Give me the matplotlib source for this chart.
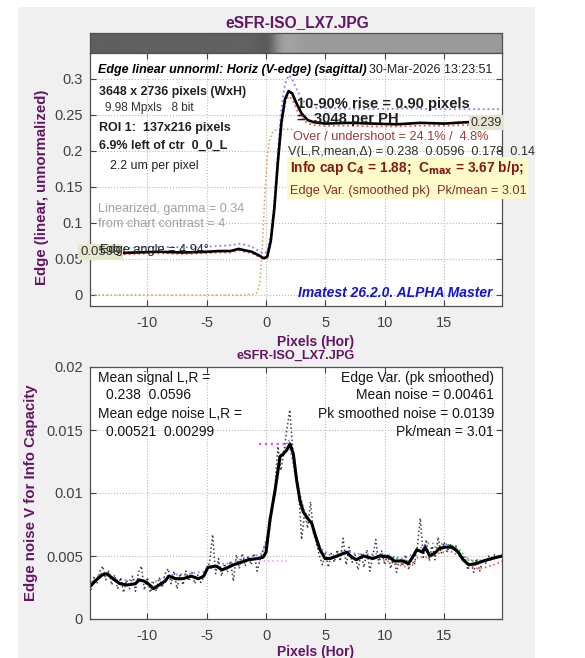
import numpy as np
import matplotlib.pyplot as plt
from matplotlib.patches import Rectangle
from matplotlib.colors import PowerNorm

plt.rcParams['font.family'] = ['Liberation Sans', 'DejaVu Sans']
plt.rcParams['axes.unicode_minus'] = False

W, H = 585, 658
PURPLE = '#641464'
TICKC = '#404040'

# edge profile (top plot)
edge_x = [-14.8, -13, -11, -9, -7, -5, -4, -3, -2.3, -1.8,
          -1.2, -0.6, -0.2, 0.1, 0.4, 0.7, 1.0, 1.3, 1.6, 1.9,
          2.2, 2.6, 3.0, 3.5, 4.0, 5, 7, 9, 11, 13,
          15, 17, 19.9]
edge_y = [0.059, 0.058, 0.059, 0.060, 0.059, 0.060, 0.061, 0.061, 0.064, 0.062,
          0.060, 0.055, 0.051, 0.053, 0.075, 0.12, 0.185, 0.24, 0.272, 0.283,
          0.280, 0.265, 0.252, 0.243, 0.240, 0.238, 0.239, 0.238, 0.237, 0.239,
          0.238, 0.240, 0.239]
edge_lo = [0.057, 0.056, 0.057, 0.058, 0.057, 0.058, 0.059, 0.059, 0.062, 0.060,
           0.058, 0.053, 0.050, 0.052, 0.073, 0.118, 0.182, 0.236, 0.266, 0.276,
           0.272, 0.257, 0.246, 0.238, 0.236, 0.235, 0.235, 0.234, 0.234, 0.235,
           0.235, 0.236, 0.236]
hi_x = [-14.8, -12, -9, -6, -4, -3, -2.3, -1.8, -1.2, -0.6, -0.2, 0.1, 0.4, 0.7,
        1.0, 1.3, 1.6, 1.9, 2.2, 2.6, 3.0, 3.5, 4.0, 6, 9, 12, 15, 19.9]
hi_y = [0.066, 0.065, 0.067, 0.066, 0.068, 0.069, 0.071, 0.070, 0.067, 0.061, 0.058, 0.060, 0.082, 0.13,
        0.20, 0.26, 0.293, 0.305, 0.300, 0.285, 0.272, 0.263, 0.260, 0.259, 0.258, 0.259, 0.258, 0.258]
ideal_x = [-14.8, -2, -1.0, -0.7, -0.5, -0.3, -0.1, 0.1, 0.3, 0.5, 0.8, 1.2, 2.4]
ideal_y = [0.0, 0.0, 0.001, 0.004, 0.02, 0.07, 0.14, 0.19, 0.215, 0.225, 0.229, 0.230, 0.230]
level_left, level_right = 0.0599, 0.239

# edge noise (bottom plot)
nz_x = [-14.8, -14.3, -13.8, -13.4, -12.9, -12.3, -11.7, -11.0, -10.7, -10.25,
        -9.8, -9.5, -9.0, -8.5, -8.2, -7.6, -7.0, -6.3, -5.7, -5.25,
        -4.9, -4.2, -3.7, -3.2, -2.75, -2.1, -1.5, -0.7, -0.25, 0.0,
        0.34, 0.76, 1.18, 1.46, 1.74, 2.02, 2.3, 2.58, 2.86, 3.14,
        3.57, 3.85, 4.13, 4.55, 4.97, 5.4, 6.0, 6.5, 6.8, 7.1,
        7.6, 8.2, 8.6, 9.0, 9.6, 10.4, 10.8, 11.5, 12.0, 12.4,
        12.7, 13.2, 13.4, 13.8, 14.3, 14.6, 15.1, 15.7, 16.2, 16.6,
        17.1, 17.7, 18.3, 19.0, 19.9]
nz_smooth = [0.0026, 0.0031, 0.0035, 0.0036, 0.0032, 0.0028, 0.0027, 0.0028, 0.0031, 0.0030,
             0.0027, 0.0024, 0.0027, 0.0030, 0.0034, 0.0032, 0.0032, 0.0034, 0.0032, 0.0034,
             0.0041, 0.0042, 0.0039, 0.0041, 0.0043, 0.0045, 0.0047, 0.0048, 0.0049, 0.0053,
             0.0079, 0.0102, 0.0129, 0.0131, 0.0134, 0.0139, 0.0131, 0.0110, 0.0094, 0.0085,
             0.0079, 0.0076, 0.0067, 0.0055, 0.0048, 0.0048, 0.0050, 0.0052, 0.0053, 0.0050,
             0.0047, 0.0050, 0.0049, 0.0048, 0.0050, 0.0049, 0.0046, 0.0046, 0.0044, 0.0050,
             0.0055, 0.0053, 0.0057, 0.0050, 0.0053, 0.0056, 0.0057, 0.0057, 0.0053, 0.0047,
             0.0043, 0.0044, 0.0046, 0.0048, 0.0050]
raw_x = np.arange(-14.75, 19.76, 0.25)
nz_raw = [0.0023, 0.0033, 0.0028, 0.0038, 0.0042, 0.0031, 0.0038, 0.0027, 0.0035, 0.0024,
          0.0033, 0.0021, 0.0031, 0.0024, 0.0034, 0.0022, 0.0037, 0.0042, 0.0023, 0.0033,
          0.0021, 0.0029, 0.0022, 0.0033, 0.0025, 0.0036, 0.0040, 0.0028, 0.0038, 0.0024,
          0.0036, 0.0027, 0.0038, 0.0030, 0.0037, 0.0028, 0.0035, 0.0029, 0.0033, 0.0039,
          0.0045, 0.0067, 0.0036, 0.0048, 0.0034, 0.0044, 0.0037, 0.0046, 0.0030, 0.0051,
          0.0040, 0.0052, 0.0042, 0.0050, 0.0043, 0.0052, 0.0038, 0.0047, 0.0055, 0.0060,
          0.0068, 0.0090, 0.0105, 0.0137, 0.0118, 0.0132, 0.0150, 0.0166, 0.0135, 0.0118,
          0.0102, 0.0063, 0.0085, 0.0072, 0.0093, 0.0068, 0.0060, 0.0050, 0.0043, 0.0052,
          0.0041, 0.0052, 0.0045, 0.0055, 0.0046, 0.0064, 0.0043, 0.0057, 0.0045, 0.0051,
          0.0039, 0.0052, 0.0041, 0.0055, 0.0038, 0.0050, 0.0063, 0.0044, 0.0054, 0.0043,
          0.0052, 0.0040, 0.0049, 0.0037, 0.0048, 0.0042, 0.0051, 0.0040, 0.0047, 0.0043,
          0.0058, 0.0080, 0.0049, 0.0063, 0.0046, 0.0058, 0.0047, 0.0065, 0.0052, 0.0061,
          0.0053, 0.0060, 0.0054, 0.0058, 0.0051, 0.0048, 0.0049, 0.0039, 0.0045, 0.0037,
          0.0048, 0.0038, 0.0047, 0.0044, 0.0050, 0.0046, 0.0051, 0.0048, 0.0050]
nzb_x = [-14.8, -13.8, -12.5, -11, -9.5, -8, -6.5, -5, -4, -3, -2, -1, -0.3, 0.3, 0.8, 1.3, 1.9, 2.5,
         3.2, 4, 4.6, 5.5, 6.5, 7.5, 8.5, 9.5, 10.5, 11.5, 12.5, 13.5, 14.5, 15.5, 16.5, 17.5, 18.5, 19.9]
nzb_y = [0.0029, 0.0037, 0.0031, 0.0031, 0.0029, 0.0035, 0.0036, 0.0038, 0.0044, 0.0044, 0.0048, 0.0050,
         0.0052, 0.0074, 0.0105, 0.0130, 0.0142, 0.0112, 0.0087, 0.0072, 0.0056, 0.0050, 0.0054, 0.0052,
         0.0051, 0.0052, 0.0050, 0.0048, 0.0052, 0.0060, 0.0060, 0.0059, 0.0050, 0.0046, 0.0047, 0.0050]
nzr_x = [9.5, 10.5, 11.5, 12.2, 12.8, 13.5, 14.5, 15.5, 16.3, 17, 17.8, 18.5, 19.2, 19.9]
nzr_y = [0.0048, 0.0045, 0.0042, 0.0041, 0.0049, 0.0049, 0.0052, 0.0054, 0.0050, 0.0043, 0.0040, 0.0041, 0.0043, 0.0046]
nzg_y = [0.0051, 0.0049, 0.0047, 0.0046, 0.0054, 0.0055, 0.0058, 0.0059, 0.0055, 0.0047, 0.0045, 0.0046, 0.0048, 0.0051]
mean_noise, pk_noise = 0.00461, 0.0139
mark_x = [-0.6, 1.8]

XLIM = (-14.83, 19.88)
XTICKS = [-10, -5, 0, 5, 10, 15]


def fx(x):
    return x / W


def fy(y):
    return 1 - y / H


fig = plt.figure(figsize=(W / 100, H / 100), dpi=100, facecolor='white')
fig.patches.append(Rectangle((fx(18), 0), fx(535 - 18), fy(7), transform=fig.transFigure,
                             facecolor='#f0f0f0', edgecolor='none', zorder=-5))


def style(ax, yticks, ylabels):
    ax.set_xlim(*XLIM)
    ax.set_xticks(XTICKS)
    ax.set_yticks(yticks)
    ax.set_yticklabels(ylabels)
    ax.tick_params(direction='in', top=True, right=True, length=4, width=0.8,
                   labelsize=10.5, labelcolor=TICKC, color=TICKC)
    ax.tick_params(axis='x', pad=7)
    ax.tick_params(axis='y', pad=5)
    ax.grid(True, linestyle=':', color='#b8b8b8', linewidth=0.8)
    for s in ax.spines.values():
        s.set_color('#505050')
        s.set_linewidth(0.9)


# gradient strip showing the edge image
axg = fig.add_axes([fx(90), fy(53), fx(412), (53 - 33) / H])
gx = np.array([edge_x, edge_x])
gy = np.array([[0] * len(edge_x), [1] * len(edge_x)])
gc = np.array([edge_y, edge_y])
axg.pcolormesh(gx, gy, gc, shading='gouraud', cmap='gray', norm=PowerNorm(0.34, vmin=0, vmax=1.05))
axg.set_xlim(*XLIM)
axg.set_ylim(0, 1)
axg.set_xticks([])
axg.set_yticks([])
for s in axg.spines.values():
    s.set_color('#505050')
    s.set_linewidth(0.9)

# top: edge profile
ax1 = fig.add_axes([fx(90), fy(306), fx(412), (306 - 53) / H])
style(ax1, [0, 0.05, 0.1, 0.15, 0.2, 0.25, 0.3], ['0', '0.05', '0.1', '0.15', '0.2', '0.25', '0.3'])
ax1.set_ylim(-0.0153, 0.336)
ax1.plot(ideal_x, ideal_y, ':', color='#d9a050', lw=1.1)
ax1.plot(hi_x, hi_y, ':', color='#7f7fff', lw=1.3)
ax1.plot(edge_x, edge_lo, ':', color='#ff5050', lw=1.3)
ax1.plot(edge_x, edge_y, '-', color='black', lw=1.9)
ax1.text(XLIM[1], level_right, f'{level_right:.3f}', ha='right', va='center', fontsize=9,
         color='#303030', bbox=dict(facecolor='#e6e6d0', edgecolor='none', pad=1.2))
ax1.text(-15.65, level_left, f'{level_left:.4f}', ha='left', va='center', fontsize=9.5,
         color='#303030', clip_on=False, bbox=dict(facecolor='#e6e8c8', edgecolor='none', pad=1.5))
ax1.set_ylabel('Edge (linear, unnormalized)', fontsize=10.8, fontweight='bold', color=PURPLE)
ax1.yaxis.set_label_coords(-0.1, 0.47)

# bottom: edge noise
ax2 = fig.add_axes([fx(90), fy(619), fx(412), (619 - 367) / H])
style(ax2, [0, 0.005, 0.01, 0.015, 0.02], ['0', '0.005', '0.01', '0.015', '0.02'])
ax2.set_ylim(0, 0.02)
ax2.plot(mark_x, [pk_noise, pk_noise], ':', color='#ff40ff', lw=1.6)
ax2.plot(mark_x, [mean_noise, mean_noise], ':', color='#ff90ff', lw=1.2)
ax2.plot(nzb_x, nzb_y, ':', color='#8080ff', lw=1.2)
ax2.plot(nzr_x, nzr_y, ':', color='#ff5050', lw=1.2)
ax2.plot(nzr_x, nzg_y, ':', color='#30c030', lw=1.2)
ax2.plot(raw_x, nz_raw, ':', color='#404040', lw=1.1)
ax2.plot(nz_x, nz_smooth, '-', color='black', lw=2.2)
ax2.set_ylabel('Edge noise V for Info Capacity', fontsize=10.8, fontweight='bold', color=PURPLE)
ax2.yaxis.set_label_coords(-0.125, 0.5)


def t(x, y, s, **kw):
    kw.setdefault('va', 'center')
    return fig.text(fx(x), fy(y), s, **kw)


# titles and x labels
t(297, 23, 'eSFR-ISO_LX7.JPG', ha='center', fontsize=11.2, fontweight='bold', color=PURPLE)
t(296, 356, 'eSFR-ISO_LX7.JPG', ha='center', fontsize=9.2, fontweight='bold', color=PURPLE)
t(316, 342, 'Pixels (Hor)', ha='center', fontsize=10, fontweight='bold', color=PURPLE)
t(316, 652, 'Pixels (Hor)', ha='center', fontsize=10, fontweight='bold', color=PURPLE)

# top plot annotations
t(98, 70, 'Edge linear unnorml: Horiz (V-edge) (sagittal)', fontsize=9, fontweight='bold', style='italic')
t(369, 70, '30-Mar-2026 13:23:51', fontsize=9, color='#202020')
t(99, 92, '3648 x 2736 pixels (WxH)', fontsize=8.9, fontweight='bold', color='#202020')
t(105, 108, '9.98 Mpxls   8 bit', fontsize=8.5, color='#303030')
t(99, 128, 'ROI 1:  137x216 pixels', fontsize=9, fontweight='bold', color='#202020')
t(99, 146, '6.9% left of ctr  0_0_L', fontsize=9, fontweight='bold', color='#202020')
t(110, 166, '2.2 um per pixel', fontsize=8.9, color='#202020')
t(98, 209, 'Linearized, gamma = 0.34', fontsize=9.1, color='#a0a0a0')
t(98, 224, 'from chart contrast = 4', fontsize=9.1, color='#a0a0a0')
t(100, 250, 'Edge angle = 4.94°', fontsize=9.2, color='#202020')
t(297, 104, '10-90% rise = 0.90 pixels', fontsize=10.6, fontweight='bold', color='#202020')
t(297, 119, '=  3048 per PH', fontsize=10.6, fontweight='bold', color='#202020')
t(293, 137, 'Over / undershoot = 24.1% /  4.8%', fontsize=9.2, color='#a03838')
t(288, 152, 'V(L,R,mean,Δ) = 0.238  0.0596  0.178  0.14', fontsize=9.2, color='#303030')
fig.patches.append(Rectangle((fx(287), fy(199)), fx(528 - 287), (199 - 157) / H,
                             transform=fig.transFigure, facecolor='#fdfbc9', edgecolor='none', zorder=4))
t(290, 168, r'Info cap C$_\mathbf{4}$ = 1.88;  C$_\mathbf{max}$ = 3.67 b/p;', fontsize=9.9,
  fontweight='bold', color='#801818', zorder=6)
t(290, 191, 'Edge Var. (smoothed pk)  Pk/mean = 3.01', fontsize=9.2, color='#8b2a2a', zorder=6)
t(492, 293, 'Imatest 26.2.0. ALPHA Master', ha='right', fontsize=10, fontweight='bold',
  style='italic', color='#1414d0')

# bottom plot annotations
t(98, 378, 'Mean signal L,R =', fontsize=10, color='#151515')
t(106, 395, '0.238  0.0596', fontsize=10, color='#151515')
t(98, 414, 'Mean edge noise L,R =', fontsize=10, color='#151515')
t(106, 432, '0.00521  0.00299', fontsize=10, color='#151515')
t(494, 378, 'Edge Var. (pk smoothed)', ha='right', fontsize=10, color='#151515')
t(494, 395, f'Mean noise = {mean_noise}', ha='right', fontsize=10, color='#151515')
t(494, 414, f'Pk smoothed noise = {pk_noise}', ha='right', fontsize=10, color='#151515')
t(494, 432, 'Pk/mean = 3.01', ha='right', fontsize=10, color='#151515')

# white margin on the right
fig.patches.append(Rectangle((fx(535), 0), fx(W - 535), 1, transform=fig.transFigure,
                             facecolor='white', edgecolor='none', zorder=20))

fig.savefig('out.png', dpi=100, facecolor='white')
